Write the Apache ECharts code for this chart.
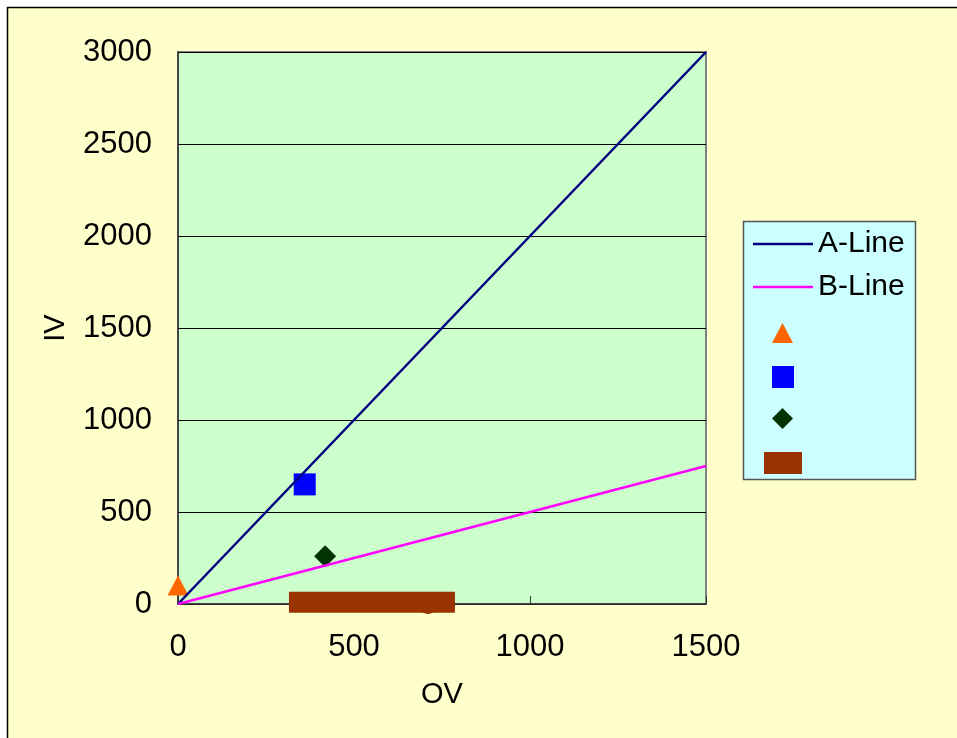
<!DOCTYPE html>
<html>
<head>
<meta charset="utf-8">
<script src="https://cdn.jsdelivr.net/npm/echarts@6/dist/echarts.min.js"></script>
<style>
html,body{margin:0;padding:0;background:#fff;}
#chart{width:957px;height:738px;}
</style>
</head>
<body>
<div id="chart"></div>
<script>
// ---- data ----
var xTicks = [0, 500, 1000, 1500];
var yTicks = [0, 500, 1000, 1500, 2000, 2500, 3000];
var lineA = [[0, 0], [1500, 3000]];
var lineB = [[0, 0], [1500, 750]];
var triPts = [[0, 100]];
var sqPts = [[360, 650]];
var diaPts = [[418, 260]];
var circPts = [[710, 0]];
var barPts = [[551, 10]];
var xName = 'OV';
var yName = 'IV';
var lineNames = ['A-Line', 'B-Line'];

var FONT = 'Liberation Sans, Arial, sans-serif';
var chart = echarts.init(document.getElementById('chart'));
var empty = function () { return ''; };
var plain = function (v) { return String(v); };

var option = {
  backgroundColor: '#ffffff',
  animation: false,
  graphic: [
    { type: 'rect', z: -100, silent: true,
      shape: { x: 7.5, y: 7.5, width: 960, height: 740 },
      style: { fill: '#FFFFCC', stroke: '#000', lineWidth: 1.5 } },
    { type: 'rect', z: 3, silent: true,
      shape: { x: 743.5, y: 221.5, width: 172, height: 258 },
      style: { fill: '#CCFFFF', stroke: '#555', lineWidth: 1.5 } }
  ],
  grid: {
    left: 178, top: 52, width: 528, height: 552,
    show: true, backgroundColor: '#CCFFCC', borderColor: '#808080', borderWidth: 2
  },
  xAxis: {
    type: 'value', min: xTicks[0], max: xTicks[xTicks.length - 1], interval: 500,
    name: xName, nameLocation: 'middle', nameGap: 76,
    nameTextStyle: { fontFamily: FONT, fontSize: 29, color: '#000' },
    axisLine: { show: true, lineStyle: { color: '#333', width: 1.5 } },
    axisTick: { show: true, inside: true, length: 8, lineStyle: { color: '#333' } },
    axisLabel: { fontFamily: FONT, fontSize: 31, color: '#000', margin: 28, formatter: plain },
    splitLine: { show: false }
  },
  yAxis: {
    type: 'value', min: yTicks[0], max: yTicks[yTicks.length - 1], interval: 500,
    name: yName, nameLocation: 'middle', nameGap: 108, nameRotate: 90,
    nameTextStyle: { fontFamily: FONT, fontSize: 29, color: '#000' },
    axisLine: { show: true, lineStyle: { color: '#333', width: 1.5 } },
    axisTick: { show: false },
    axisLabel: { fontFamily: FONT, fontSize: 31, color: '#000', margin: 26, formatter: plain },
    splitLine: { show: true, lineStyle: { color: '#000', width: 1 } }
  },
  legend: [
    { data: [lineNames[0]], left: 753, top: 229, padding: 0, icon: 'rect', itemWidth: 60, itemHeight: 2.5, itemGap: 7, selectedMode: false,
      textStyle: { fontFamily: FONT, fontSize: 30, color: '#000' } },
    { data: [lineNames[1]], left: 753, top: 272, padding: 0, icon: 'rect', itemWidth: 60, itemHeight: 2.5, selectedMode: false,
      textStyle: { fontFamily: FONT, fontSize: 30, color: '#000' } },
    { data: ['P1'], left: 772, top: 323, padding: 0, itemWidth: 21, itemHeight: 20, selectedMode: false, formatter: empty },
    { data: ['P2'], left: 772, top: 366, padding: 0, itemWidth: 22, itemHeight: 22, selectedMode: false, formatter: empty },
    { data: ['P3'], left: 772, top: 408, padding: 0, itemWidth: 21, itemHeight: 21, selectedMode: false, formatter: empty },
    { data: ['P5'], left: 764, top: 452, padding: 0, itemWidth: 38, itemHeight: 22, selectedMode: false, formatter: empty }
  ],
  series: [
    { name: lineNames[0], type: 'line', data: lineA, symbol: 'none', clip: false,
      lineStyle: { color: '#000080', width: 2.5 }, itemStyle: { color: '#000080' } },
    { name: lineNames[1], type: 'line', data: lineB, symbol: 'none', clip: false,
      lineStyle: { color: '#FF00FF', width: 2.5 }, itemStyle: { color: '#FF00FF' } },
    { name: 'P1', type: 'scatter', data: triPts, symbol: 'triangle', symbolSize: [21, 20], clip: false,
      itemStyle: { color: '#FF6600', opacity: 1 } },
    { name: 'P2', type: 'scatter', data: sqPts, symbol: 'rect', symbolSize: [22, 22], clip: false,
      itemStyle: { color: '#0000FF', opacity: 1 } },
    { name: 'P3', type: 'scatter', data: diaPts, symbol: 'diamond', symbolSize: [22, 22], clip: false,
      itemStyle: { color: '#003300', opacity: 1 } },
    { name: 'P4', type: 'scatter', data: circPts, symbol: 'circle', symbolSize: 20, clip: false,
      itemStyle: { color: '#8B1A00', opacity: 1 } },
    { name: 'P5', type: 'scatter', data: barPts, symbol: 'rect', symbolSize: [166, 21], clip: false,
      itemStyle: { color: '#993300', opacity: 1 } }
  ]
};
chart.setOption(option);
</script>
</body>
</html>
